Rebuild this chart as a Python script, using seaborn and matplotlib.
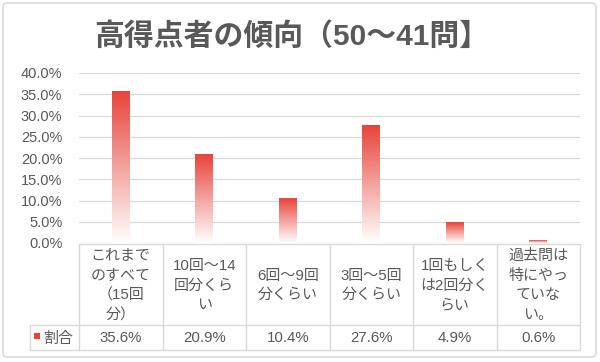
import numpy as np
import matplotlib
matplotlib.use("Agg")
import matplotlib.pyplot as plt
import seaborn as sns
from matplotlib.colors import LinearSegmentedColormap
from matplotlib.patches import FancyBboxPatch, Rectangle

# data
title = "高得点者の傾向（50～41問】"
categories = ["これまで\nのすべて\n（15回\n分）", "10回～14\n回分くら\nい", "6回～9回\n分くらい",
              "3回～5回\n分くらい", "1回もしく\nは2回分く\nらい", "過去問は\n特にやっ\nていな\nい。"]
values = [35.6, 20.9, 10.4, 27.6, 4.9, 0.6]
series_name = "割合"
yticks = [0, 5, 10, 15, 20, 25, 30, 35, 40]

sns.set_style("white")
plt.rcParams['font.family'] = ['Liberation Sans', 'Noto Sans CJK JP', 'DejaVu Sans']

W, H = 600, 362
fig = plt.figure(figsize=(W / 100, H / 100), dpi=100)

text_col = '#595959'
grid_col = '#D9D9D9'
red = '#E8433A'

# overlay in pixel coordinates for the frame, title and data table
ov = fig.add_axes([0, 0, 1, 1])
ov.set_xlim(0, W)
ov.set_ylim(H, 0)
ov.axis('off')
ov.add_patch(FancyBboxPatch((3, 3), W - 7, H - 8, boxstyle="round,pad=0,rounding_size=4",
                            fc='white', ec=grid_col, lw=1.2, zorder=0))
ov.text(292, 37, title, ha='center', va='center', fontsize=21.5, fontweight='bold', color=text_col)

# plot area
left, right, y0, y40 = 79, 580, 243, 73
ax = fig.add_axes([left / W, (H - y0) / H, (right - left) / W, (y0 - y40) / H])
sns.barplot(x=list(range(len(values))), y=values, width=0.215, ax=ax, color=red)
ax.set_xlim(-0.5, len(values) - 0.5)
ax.set_ylim(0, 40)
ax.set_yticks(yticks)
ax.set_yticklabels([f"{t:.1f}%" for t in yticks], fontsize=10.5, color=text_col)
ax.tick_params(axis='y', length=0, pad=12)
ax.set_xticks([])
ax.set_xlabel('')
ax.set_ylabel('')
ax.yaxis.grid(True, color=grid_col, lw=0.9)
ax.set_axisbelow(True)
for s in ax.spines.values():
    s.set_visible(False)
ax.patch.set_alpha(0)

# vertical gradient fill for each bar: red at top to white at the base
cmap = LinearSegmentedColormap.from_list('grad', ['#FFFFFF', '#F3A39E', red])
grad = np.linspace(0, 1, 256).reshape(-1, 1)
for p in ax.patches:
    x, w, h = p.get_x(), p.get_width(), p.get_height()
    p.set_facecolor('none')
    p.set_edgecolor('none')
    ax.imshow(grad, extent=[x, x + w, 0, h], origin='lower', aspect='auto',
              cmap=cmap, zorder=2)
ax.set_xlim(-0.5, len(values) - 0.5)
ax.set_ylim(0, 40)

# data table under the plot
top, mid, bot, legl = 244, 325, 350, 30
colw = (right - left) / len(values)
lc = dict(color=grid_col, lw=1.0)
ov.plot([left, right], [top, top], **lc)
ov.plot([legl, right], [mid, mid], **lc)
ov.plot([legl, right], [bot, bot], **lc)
ov.plot([legl, legl], [mid, bot], **lc)
for i in range(len(values) + 1):
    ov.plot([left + i * colw] * 2, [top, bot], **lc)
for i, (c, v) in enumerate(zip(categories, values)):
    cx = left + (i + 0.5) * colw
    ov.text(cx, (top + mid) / 2 + 1, c, ha='center', va='center', fontsize=10.8,
            color=text_col, linespacing=1.5)
    ov.text(cx, (mid + bot) / 2 + 1, f"{v:.1f}%", ha='center', va='center',
            fontsize=10.8, color=text_col)
ov.add_patch(Rectangle((34, 333), 6, 6, fc=red, ec='none'))
ov.text(43, (mid + bot) / 2 + 1, series_name, ha='left', va='center', fontsize=10.8, color=text_col)

fig.savefig("out.png", dpi=100)
